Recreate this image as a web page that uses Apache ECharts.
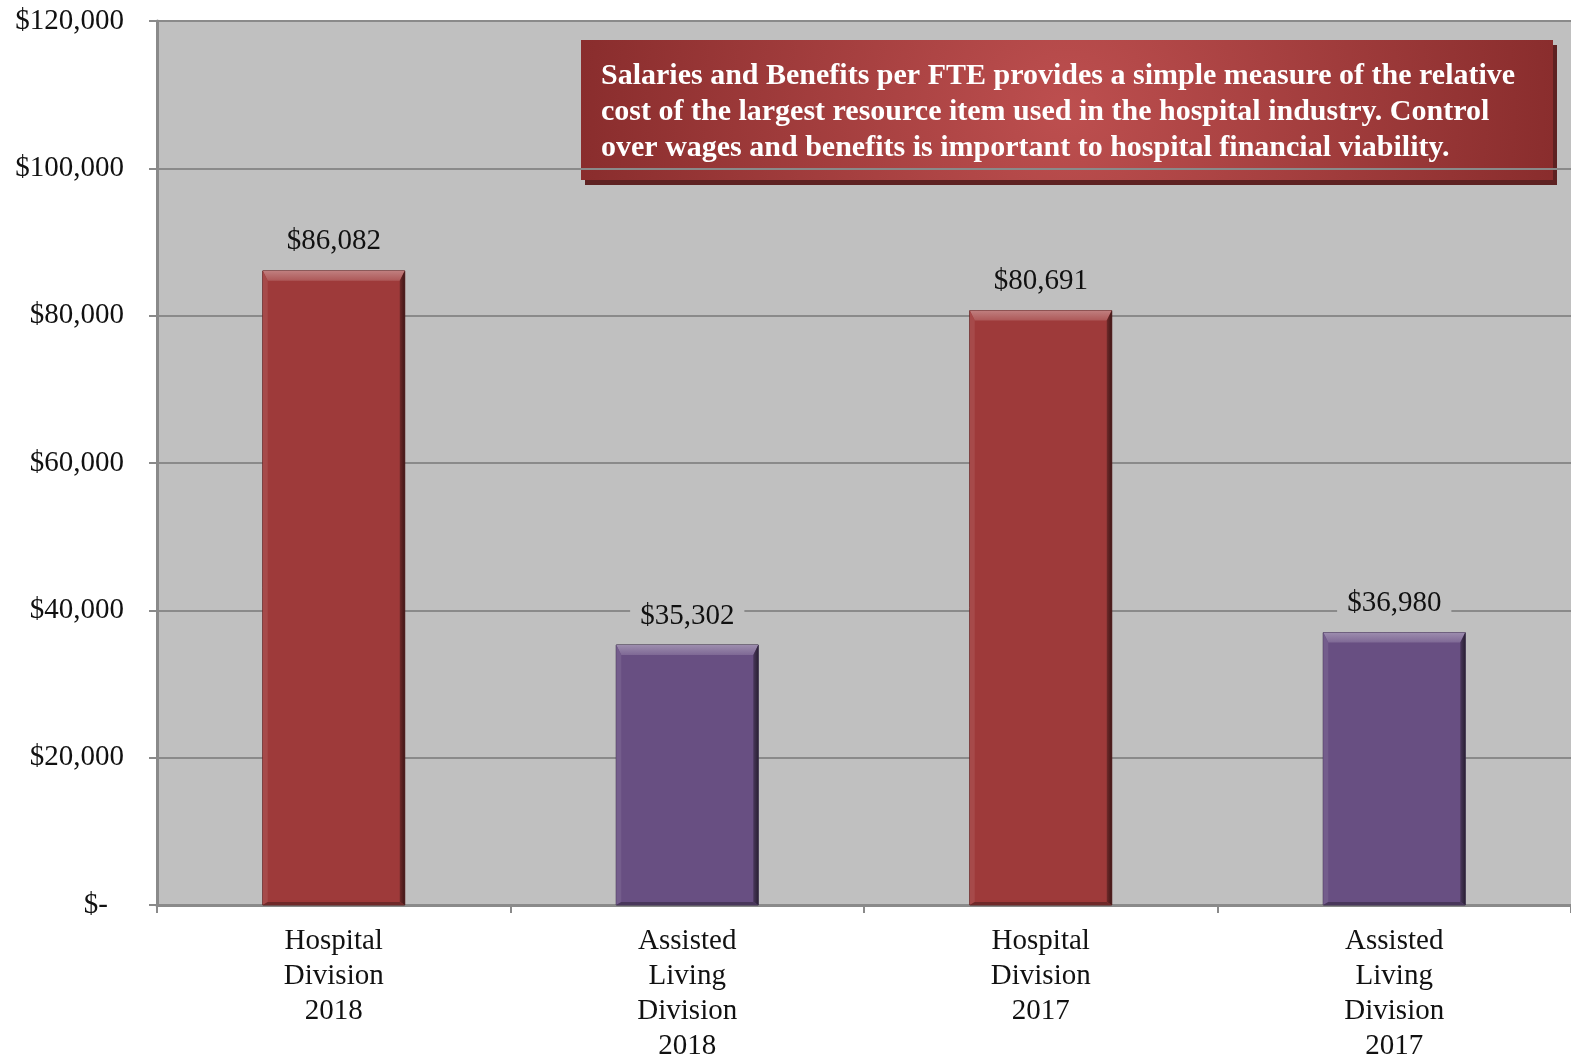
<!DOCTYPE html>
<html>
<head>
<meta charset="utf-8">
<script src="https://cdn.jsdelivr.net/npm/echarts@6/dist/echarts.min.js"></script>
<style>
  html, body { margin: 0; padding: 0; background: #fff; }
  #chart { width: 1571px; height: 1060px; }
</style>
</head>
<body>
<div id="chart"></div>
<script>
// Salaries and Benefits per FTE by division and year
const categories = ['Hospital\nDivision\n2018', 'Assisted\nLiving\nDivision\n2018', 'Hospital\nDivision\n2017', 'Assisted\nLiving\nDivision\n2017'];
const values = [86082, 35302, 80691, 36980];
const barColors = ['#9e3a3a', '#684f82', '#9e3a3a', '#684f82'];
const yTicks = [0, 20000, 40000, 60000, 80000, 100000, 120000];
const noteText = 'Salaries and Benefits per FTE provides a simple measure of the relative\ncost of the largest resource item used in the hospital industry. Control\nover wages and benefits is important to hospital financial viability.';

const SERIF = '"Liberation Serif", "Times New Roman", serif';

function money(v) {
  return '$' + v.toLocaleString('en-US');
}

// lighten / darken a hex colour
function shade(hex, amt) {
  const n = parseInt(hex.slice(1), 16);
  let r = n >> 16, g = (n >> 8) & 255, b = n & 255;
  const f = c => Math.max(0, Math.min(255, Math.round(amt >= 0 ? c + (255 - c) * amt : c * (1 + amt))));
  return 'rgb(' + f(r) + ',' + f(g) + ',' + f(b) + ')';
}

// bevelled bar drawn from the value/category scales
function renderBar(params, api) {
  const idx = api.value(0);
  const val = api.value(1);
  const top = api.coord([idx, val]);
  const base = api.coord([idx, 0]);
  const w = 142;
  const x0 = top[0] - w / 2, x1 = top[0] + w / 2;
  const y0 = top[1], y1 = base[1];
  const c = barColors[idx];
  const bv = 10, sv = 5;
  return {
    type: 'group',
    children: [
      { type: 'rect', shape: { x: x0, y: y0, width: w, height: y1 - y0 },
        style: { fill: c, stroke: shade(c, -0.45), lineWidth: 1 } },
      { type: 'polygon', shape: { points: [[x0, y0], [x1, y0], [x1 - sv, y0 + bv], [x0 + sv, y0 + bv]] },
        style: { fill: new echarts.graphic.LinearGradient(0, 0, 0, 1, [
          { offset: 0, color: shade(c, 0.35) }, { offset: 1, color: shade(c, 0.15) }]) } },
      { type: 'polygon', shape: { points: [[x1, y0], [x1, y1], [x1 - sv, y1 - 3], [x1 - sv, y0 + bv]] },
        style: { fill: new echarts.graphic.LinearGradient(0, 0, 1, 0, [
          { offset: 0, color: shade(c, -0.3) }, { offset: 1, color: shade(c, -0.6) }]) } },
      { type: 'polygon', shape: { points: [[x0, y0], [x0 + sv, y0 + bv], [x0 + sv, y1 - 3], [x0, y1]] },
        style: { fill: shade(c, 0.08) } },
      { type: 'polygon', shape: { points: [[x0, y1], [x0 + sv, y1 - 3], [x1 - sv, y1 - 3], [x1, y1]] },
        style: { fill: shade(c, -0.3) } },
      { type: 'text', x: top[0], y: y0 - 29,
        style: { text: money(val), fill: '#111', font: '29px ' + SERIF, align: 'center', verticalAlign: 'middle',
          backgroundColor: '#c0c0c0', padding: [0, 10] } }
    ]
  };
}

const chart = echarts.init(document.getElementById('chart'));
chart.setOption({
  animation: false,
  backgroundColor: '#ffffff',
  grid: { left: 157, right: 0, top: 21, bottom: 155, show: true, backgroundColor: '#c0c0c0', borderWidth: 0,
    containLabel: false, outerBoundsMode: 'none' },
  xAxis: {
    type: 'category',
    data: categories,
    boundaryGap: true,
    axisLine: { lineStyle: { color: '#8a8a8a', width: 3 } },
    axisTick: { show: true, length: 8, lineStyle: { color: '#8a8a8a', width: 2 } },
    axisLabel: { color: '#111', fontFamily: SERIF, fontSize: 29, lineHeight: 35, margin: 19, interval: 0 }
  },
  yAxis: {
    type: 'value',
    min: yTicks[0],
    max: yTicks[yTicks.length - 1],
    interval: 20000,
    axisLine: { show: true, lineStyle: { color: '#8a8a8a', width: 3 } },
    axisTick: { show: true, length: 8, lineStyle: { color: '#8a8a8a', width: 2 } },
    splitLine: { lineStyle: { color: '#8a8a8a', width: 2 } },
    axisLabel: {
      margin: 33,
      formatter: v => v === 0 ? '{z|$-}' : money(v),
      color: '#111', fontFamily: SERIF, fontSize: 29,
      rich: { z: { color: '#111', fontFamily: SERIF, fontSize: 29, padding: [0, 16, 0, 0] } }
    }
  },
  series: [{
    type: 'custom',
    renderItem: renderBar,
    data: values.map((v, i) => [i, v]),
    encode: { x: 0, y: 1 },
    z: 3
  }],
  graphic: [{
    type: 'group',
    left: 581, top: 40,
    children: [
      { type: 'rect', shape: { x: 4, y: 5, width: 972, height: 140 }, style: { fill: '#5e2222' } },
      { type: 'rect', shape: { x: 0, y: 0, width: 972, height: 140 },
        style: { fill: new echarts.graphic.RadialGradient(0.5, 0.5, 3.6, [
          { offset: 0, color: '#bd4f4f' }, { offset: 1, color: '#882c2c' }]) } },
      { type: 'text', x: 20, y: 18,
        style: { text: noteText, fill: '#ffffff', font: 'bold 30px ' + SERIF, lineHeight: 36 } }
    ]
  }]
});
</script>
</body>
</html>
